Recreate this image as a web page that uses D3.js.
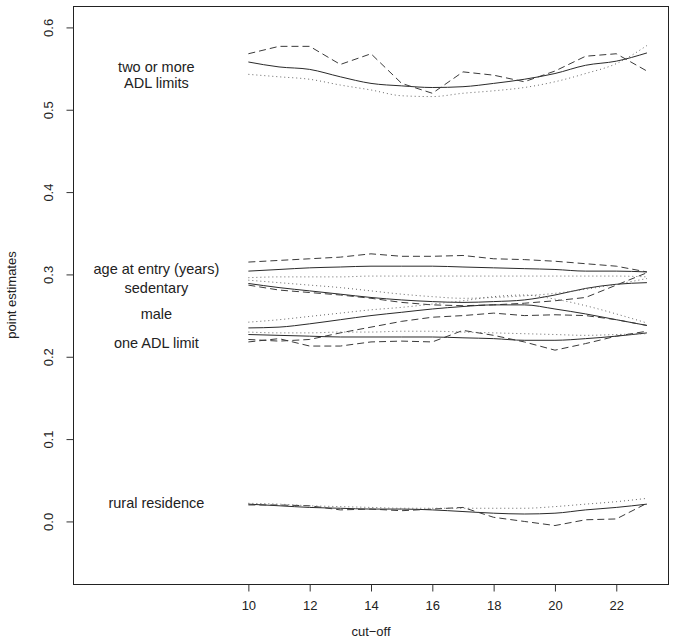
<!DOCTYPE html>
<html><head><meta charset="utf-8">
<script src="https://cdn.jsdelivr.net/npm/d3@7/dist/d3.min.js"></script>
<style>body{margin:0;background:#fff}</style>
</head><body><svg id="c" width="675" height="644"></svg>
<script>
// ---- data ----
const cutoffs = [10,11,12,13,14,15,16,17,18,19,20,21,22,23];
const xTicks = [10,12,14,16,18,20,22];
const yTicks = [0.0,0.1,0.2,0.3,0.4,0.5,0.6];

// two or more ADL limits
const twoADL_solid  = [0.558,0.552,0.549,0.540,0.532,0.529,0.527,0.528,0.532,0.537,0.544,0.554,0.559,0.569];
const twoADL_dashed = [0.568,0.577,0.577,0.555,0.568,0.532,0.520,0.546,0.542,0.534,0.547,0.565,0.568,0.547];
const twoADL_dotted = [0.543,0.540,0.537,0.530,0.524,0.517,0.516,0.520,0.523,0.527,0.534,0.544,0.556,0.578];
// age at entry (years)
const age_solid  = [0.304,0.306,0.308,0.309,0.310,0.310,0.310,0.309,0.308,0.307,0.306,0.304,0.304,0.303];
const age_dashed = [0.315,0.317,0.319,0.321,0.325,0.322,0.322,0.323,0.319,0.318,0.316,0.313,0.310,0.303];
const age_dotted = [0.296,0.297,0.297,0.297,0.298,0.298,0.298,0.298,0.298,0.298,0.298,0.298,0.298,0.297];
// sedentary
const sed_solid  = [0.289,0.284,0.280,0.276,0.272,0.269,0.267,0.266,0.267,0.269,0.275,0.283,0.288,0.290];
const sed_dashed = [0.287,0.281,0.278,0.275,0.271,0.266,0.263,0.262,0.263,0.265,0.268,0.272,0.287,0.302];
const sed_dotted = [0.293,0.290,0.287,0.284,0.280,0.276,0.273,0.271,0.272,0.274,0.277,0.282,0.288,0.295];
// male
const male_solid  = [0.235,0.236,0.240,0.245,0.250,0.254,0.258,0.261,0.263,0.263,0.258,0.252,0.245,0.238];
const male_dashed = [0.221,0.219,0.221,0.229,0.236,0.243,0.248,0.250,0.253,0.250,0.251,0.250,0.245,0.238];
const male_dotted = [0.242,0.245,0.249,0.253,0.257,0.260,0.264,0.268,0.273,0.275,0.270,0.262,0.252,0.241];
// one ADL limit
const one_solid  = [0.227,0.226,0.225,0.224,0.224,0.224,0.224,0.223,0.222,0.220,0.220,0.222,0.225,0.229];
const one_dashed = [0.218,0.222,0.213,0.213,0.218,0.219,0.218,0.232,0.226,0.218,0.208,0.216,0.225,0.231];
const one_dotted = [0.230,0.229,0.229,0.230,0.230,0.231,0.231,0.230,0.229,0.228,0.227,0.226,0.227,0.228];
// rural residence
const rural_solid  = [0.021,0.019,0.017,0.016,0.015,0.015,0.014,0.012,0.010,0.009,0.010,0.014,0.017,0.021];
const rural_dashed = [0.020,0.020,0.019,0.014,0.015,0.013,0.015,0.017,0.005,0.000,-0.005,0.002,0.003,0.022];
const rural_dotted = [0.022,0.021,0.019,0.018,0.017,0.016,0.016,0.016,0.016,0.016,0.018,0.021,0.024,0.028];

const labelTexts = [["two or more","ADL limits"],["age at entry (years)"],["sedentary"],["male"],["one ADL limit"],["rural residence"]];
const labelX = [7,7,7,7,7,7];
const labelY = [0.542,0.307,0.284,0.252,0.217,0.023];

// ---- drawing ----
const svg = d3.select("#c");
const L=73, R=669, T=6, B=584;
const x = d3.scaleLinear().domain([4.28, 23.72]).range([L, R]);
const y = d3.scaleLinear().domain([-0.076, 0.626]).range([B, T]);
const font = "'Liberation Sans', Arial, Helvetica, sans-serif";

const series = [
  [twoADL_solid,"solid"],[twoADL_dashed,"dashed"],[twoADL_dotted,"dotted"],
  [age_solid,"solid"],[age_dashed,"dashed"],[age_dotted,"dotted"],
  [sed_solid,"solid"],[sed_dashed,"dashed"],[sed_dotted,"dotted"],
  [male_solid,"solid"],[male_dashed,"dashed"],[male_dotted,"dotted"],
  [one_solid,"solid"],[one_dashed,"dashed"],[one_dotted,"dotted"],
  [rural_solid,"solid"],[rural_dashed,"dashed"],[rural_dotted,"dotted"]
];
const style = {
  solid:{stroke:"#2a2a2a",dash:null,curve:d3.curveMonotoneX},
  dashed:{stroke:"#3a3a3a",dash:"7,4",curve:d3.curveLinear},
  dotted:{stroke:"#666",dash:"1,3",curve:d3.curveMonotoneX}
};
series.forEach(([vals,kind])=>{
  const st = style[kind];
  const line = d3.line().x((d,i)=>x(cutoffs[i])).y(d=>y(d)).curve(st.curve);
  svg.append("path").attr("d",line(vals)).attr("fill","none")
    .attr("stroke",st.stroke).attr("stroke-width",1)
    .attr("stroke-dasharray",st.dash);
});

// box
svg.append("rect").attr("x",L+0.5).attr("y",T+0.5).attr("width",R-L-1).attr("height",B-T)
  .attr("fill","none").attr("stroke","#222").attr("stroke-width",1);

// y axis
const ya = svg.append("g").attr("transform",`translate(${L+0.5},0)`)
  .call(d3.axisLeft(y).tickValues(yTicks).tickFormat(d3.format(".1f")).tickSize(7));
ya.select(".domain").remove();
ya.selectAll("line").attr("stroke","#333");
ya.selectAll("text").attr("x",0).attr("dy",0).attr("text-anchor","middle")
  .attr("transform","translate(-21,0) rotate(-90)")
  .attr("font-family",font).attr("font-size",13).attr("fill","#222");

// x axis
const xa = svg.append("g").attr("transform",`translate(0,${B+0.5})`)
  .call(d3.axisBottom(x).tickValues(xTicks).tickFormat(d3.format("d")).tickSize(7));
xa.select(".domain").remove();
xa.selectAll("line").attr("stroke","#333");
xa.selectAll("text").attr("y",16).attr("dy","0.71em")
  .attr("font-family",font).attr("font-size",13).attr("fill","#222");

// axis titles
svg.append("text").attr("x",(L+R)/2).attr("y",636).attr("text-anchor","middle")
  .attr("font-family",font).attr("font-size",13).attr("fill","#222").text("cut\u2212off");
svg.append("text").attr("transform",`translate(16,${(T+B)/2}) rotate(-90)`).attr("text-anchor","middle")
  .attr("font-family",font).attr("font-size",13).attr("fill","#222").text("point estimates");

// annotations
labelTexts.forEach((lines,i)=>{
  const t = svg.append("text").attr("text-anchor","middle")
    .attr("font-family",font).attr("font-size",14.5).attr("fill","#222");
  const n = lines.length;
  lines.forEach((s,j)=>{
    t.append("tspan").attr("x",x(labelX[i]))
      .attr("y",y(labelY[i]) + (j-(n-1)/2)*16.5).attr("dy","0.35em").text(s);
  });
});
</script></body></html>
